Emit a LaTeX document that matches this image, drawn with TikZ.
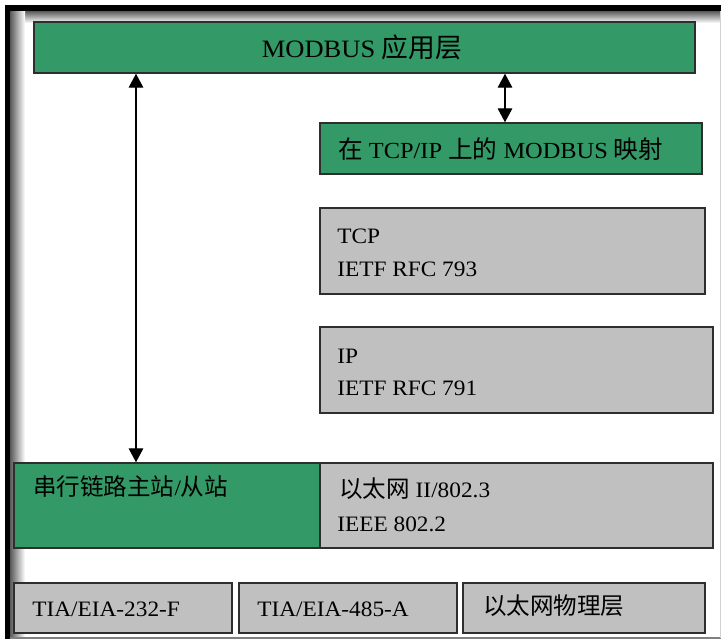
\documentclass[tikz,border=0pt]{standalone}
\usepackage{fontspec}
\setmainfont{Liberation Serif}[FakeStretch=1.06]
\newfontfamily\cjk{Noto Sans CJK SC}[Scale=1.07]
\usetikzlibrary{arrows.meta,fit}
\definecolor{layergreen}{HTML}{339966}
\definecolor{layergray}{HTML}{C0C0C0}
\definecolor{edgecol}{HTML}{2E2E2E}
\begin{document}
\begin{tikzpicture}[x=0.75pt,y=-0.75pt,
  layerbox/.style={draw=edgecol, line width=1.1pt, inner sep=0pt},
  greenbox/.style={layerbox, fill=layergreen},
  graybox/.style={layerbox, fill=layergray},
  lbl/.style={inner sep=0pt, text=black, font=\fontsize{16.5pt}{20pt}\selectfont},
  midlbl/.style={lbl, font=\fontsize{17.25pt}{21pt}\selectfont},
  biglbl/.style={lbl, font=\fontsize{18.75pt}{22pt}\selectfont},
  link/.style={line width=0.9pt, {Triangle[width=11pt,length=10.5pt]}-{Triangle[width=11pt,length=10.5pt]}}
]
\useasboundingbox (0,0) rectangle (721,639);
\fill[white] (0,0) rectangle (721,639);

% frame with shadow
\shade[top color=black!65, bottom color=white] (10,11) rectangle (721,23);
\shade[left color=black!65, right color=white] (10,11) rectangle (25,636);
\fill[black] (5,5) rectangle (721,11);
\fill[black] (5,5) rectangle (10,639);
\draw[gray, line width=0.8pt] (10,638) -- (721,638);
\draw[gray!35, line width=0.6pt] (720,11) -- (720,638);

% layers
\node[greenbox, fit={(34,22) (695,73)}] (app) {};
\node[greenbox, fit={(320,123) (702,174)}] (map) {};
\node[graybox, fit={(320,208) (705,294)}] (tcp) {};
\node[graybox, fit={(320,327) (713,413)}] (ip) {};
\node[greenbox, fit={(14,463) (320,548)}] (serial) {};
\node[graybox, fit={(320,463) (713,548)}] (eth) {};
\node[graybox, fit={(14,583) (232,633)}] (rs232) {};
\node[graybox, fit={(239,583) (457,633)}] (rs485) {};
\node[graybox, fit={(463,583) (705,633)}] (ethphy) {};

% labels
\node[biglbl, anchor=base] (app-t) at (362,57) {MODBUS {\cjk 应用层}};
\node[midlbl, anchor=base west] (map-t) at (338,158) {{\cjk 在} TCP/IP {\cjk 上的} MODBUS {\cjk 映射}};
\node[lbl, anchor=base west] (tcp-t1) at (337,243) {TCP};
\node[lbl, anchor=base west] (tcp-t2) at (337,276) {IETF RFC 793};
\node[lbl, anchor=base west] (ip-t1) at (337,363) {IP};
\node[lbl, anchor=base west] (ip-t2) at (337,395) {IETF RFC 791};
\node[lbl, anchor=base west] (serial-t) at (33,495) {{\cjk 串行链路主站}/{\cjk 从站}};
\node[lbl, anchor=base west] (eth-t1) at (339,497) {{\cjk 以太网} II/802.3};
\node[lbl, anchor=base west] (eth-t2) at (337,531) {IEEE 802.2};
\node[lbl, anchor=base west] (rs232-t) at (32,616) {TIA/EIA-232-F};
\node[lbl, anchor=base west] (rs485-t) at (257,616) {TIA/EIA-485-A};
\node[lbl, anchor=base west] (ethphy-t) at (483,614) {\cjk 以太网物理层};

% connectors
\draw[link] (app.south -| 136,0) -- (serial.north -| 136,0);
\draw[link] (app.south -| 505,0) -- (map.north -| 505,0);
\end{tikzpicture}
\end{document}
